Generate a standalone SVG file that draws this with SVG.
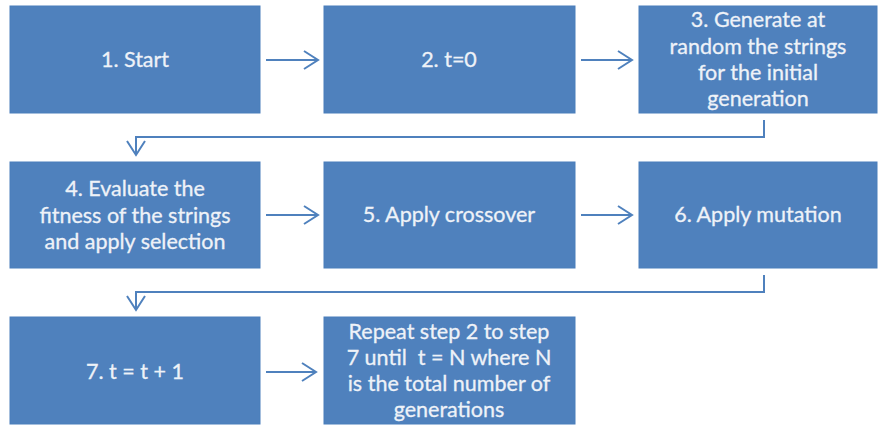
<svg xmlns="http://www.w3.org/2000/svg" width="879" height="425" viewBox="0 0 879 425">
  <style>
    .box { fill: #4F81BD; stroke: #4A7EBB; stroke-width: 1; }
    .lbl { font-family: Lato, "Open Sans", "Liberation Sans", sans-serif; font-size: 21.5px; fill: #EEF2F8; stroke: #EEF2F8; stroke-width: 0.3; text-anchor: middle; }
    .pre { white-space: pre; }
    .wire { fill: none; stroke: #4F81BD; stroke-width: 2; }
  </style>
  <defs>
    <marker id="chev" viewBox="0 0 18 22" refX="16" refY="11" markerWidth="18" markerHeight="22" markerUnits="userSpaceOnUse" orient="auto">
      <polyline points="2,2 16,11 2,20" fill="none" stroke="#4F81BD" stroke-width="2"/>
    </marker>
  </defs>

  <g id="n1"><rect class="box" x="10" y="6" width="250" height="107"/><text class="lbl" x="135" y="67">1. Start</text></g>
  <g id="n2"><rect class="box" x="324" y="6" width="251" height="107"/><text class="lbl" x="449" y="67">2. t=0</text></g>
  <g id="n3"><rect class="box" x="639" y="6" width="238" height="107"/>
    <text class="lbl" x="758"><tspan x="758" y="27">3. Generate at</tspan><tspan x="758" y="54">random the strings</tspan><tspan x="758" y="80">for the initial</tspan><tspan x="758" y="106">generation</tspan></text></g>
  <g id="n4"><rect class="box" x="10" y="162" width="250" height="106"/>
    <text class="lbl" x="135"><tspan x="135" y="196">4. Evaluate the</tspan><tspan x="135" y="223">fitness of the strings</tspan><tspan x="135" y="249">and apply selection</tspan></text></g>
  <g id="n5"><rect class="box" x="324" y="162" width="251" height="106"/><text class="lbl" x="449" y="222">5. Apply crossover</text></g>
  <g id="n6"><rect class="box" x="639" y="162" width="238" height="106"/><text class="lbl" x="758" y="222">6. Apply mutation</text></g>
  <g id="n7"><rect class="box" x="10" y="317" width="250" height="107"/><text class="lbl" x="135" y="379">7. t = t + 1</text></g>
  <g id="n8"><rect class="box" x="324" y="317" width="251" height="107"/>
    <text class="lbl pre" x="449"><tspan x="449" y="339">Repeat step 2 to step</tspan><tspan x="449" y="365">7 until  t = N where N</tspan><tspan x="449" y="391">is the total number of</tspan><tspan x="449" y="417">generations</tspan></text></g>

  <g id="connectors">
    <line class="wire" x1="266" y1="60" x2="318" y2="60" marker-end="url(#chev)"/>
    <line class="wire" x1="581" y1="60" x2="632" y2="60" marker-end="url(#chev)"/>
    <polyline class="wire" points="764,120 764,137 136,137 136,155" marker-end="url(#chev)"/>
    <line class="wire" x1="266" y1="215" x2="318" y2="215" marker-end="url(#chev)"/>
    <line class="wire" x1="581" y1="215" x2="632" y2="215" marker-end="url(#chev)"/>
    <polyline class="wire" points="764,275 764,292 136,292 136,310" marker-end="url(#chev)"/>
    <line class="wire" x1="266" y1="372" x2="316" y2="372" marker-end="url(#chev)"/>
  </g>
</svg>
